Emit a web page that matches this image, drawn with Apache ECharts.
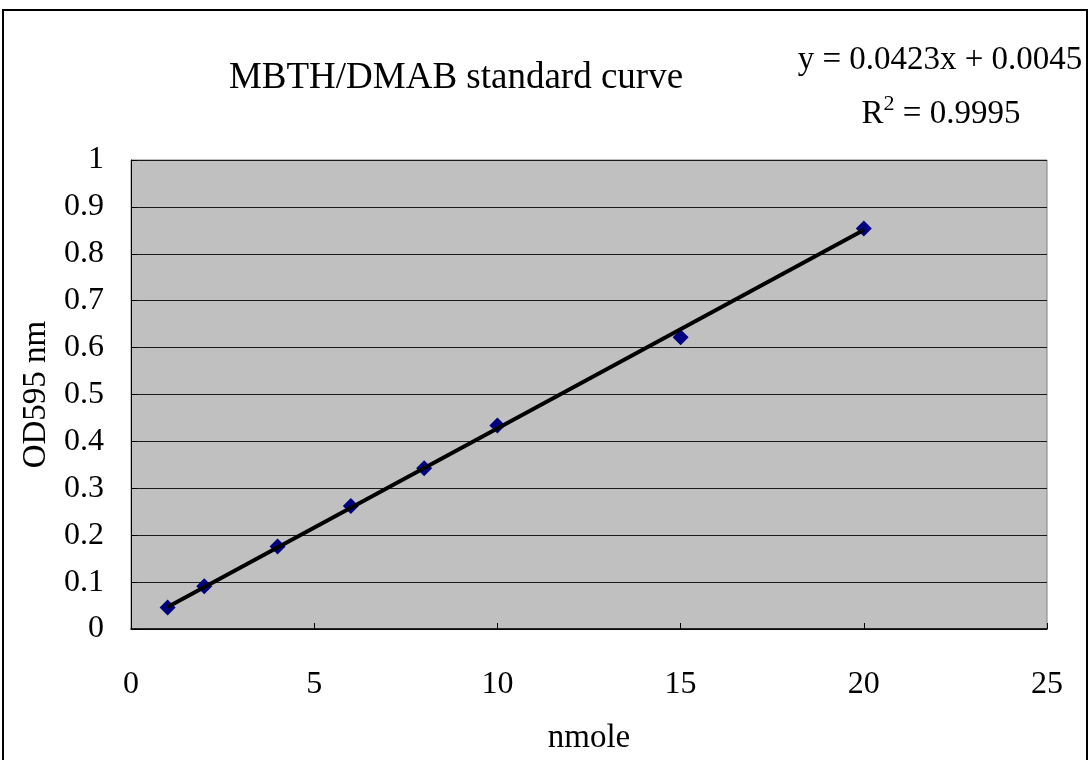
<!DOCTYPE html>
<html>
<head>
<meta charset="utf-8">
<script src="https://cdn.jsdelivr.net/npm/echarts@6/dist/echarts.min.js"></script>
<style>
  html, body { margin: 0; padding: 0; background: #ffffff; }
  #chart { width: 1090px; height: 760px; }
</style>
</head>
<body>
<div id="chart"></div>
<script>
// Standard curve measurements
const nmole = [1, 2, 4, 6, 8, 10, 15, 20];
const od595 = [0.046, 0.091, 0.176, 0.262, 0.343, 0.434, 0.622, 0.854];

// Linear fit shown in the equation label
const fitSlope = 0.0423;
const fitIntercept = 0.0045;
const fitR2 = 0.9995;

const titleText = 'MBTH/DMAB standard curve';
const xAxisName = 'nmole';
const yAxisName = 'OD595 nm';

const FONT = '"Liberation Serif", "DejaVu Serif", serif';

const points = nmole.map((x, i) => [x, od595[i]]);
const xFirst = nmole[0];
const xLast = nmole[nmole.length - 1];
const fitLine = [
  [xFirst, fitSlope * xFirst + fitIntercept],
  [xLast, fitSlope * xLast + fitIntercept]
];

const chart = echarts.init(document.getElementById('chart'), null, { renderer: 'canvas' });

chart.setOption({
  backgroundColor: '#ffffff',
  animation: false,
  grid: {
    left: 131, top: 160, width: 916, height: 470,
    show: true,
    backgroundColor: '#c0c0c0',
    borderColor: '#808080',
    borderWidth: 1,
    containLabel: false
  },
  graphic: [
    {
      type: 'rect',
      shape: { x: 3, y: 10, width: 1084, height: 770 },
      style: { fill: 'none', stroke: '#000000', lineWidth: 2 },
      silent: true
    },
    {
      type: 'text',
      x: 456, y: 78,
      style: {
        text: titleText, font: '37px ' + FONT, fill: '#000000',
        align: 'center', verticalAlign: 'middle'
      }
    },
    {
      type: 'text',
      x: 940, y: 60,
      style: {
        text: 'y = ' + fitSlope.toFixed(4) + 'x + ' + fitIntercept.toFixed(4),
        font: '33px ' + FONT, fill: '#000000',
        align: 'center', verticalAlign: 'middle'
      }
    },
    {
      type: 'text',
      x: 941, y: 112,
      style: {
        text: '{r|R}{sup|2}{r| = ' + fitR2.toFixed(4) + '}',
        align: 'center', verticalAlign: 'middle',
        rich: {
          r: { font: '33px ' + FONT, fill: '#000000', verticalAlign: 'bottom' },
          sup: { font: '22px ' + FONT, fill: '#000000', verticalAlign: 'top', padding: [0, 0, 16, 0] }
        }
      }
    }
  ],
  xAxis: {
    type: 'value',
    min: 0, max: 25, interval: 5,
    name: xAxisName,
    nameLocation: 'middle',
    nameGap: 93,
    nameTextStyle: { fontFamily: FONT, fontSize: 33, color: '#000000' },
    axisLine: { show: true, onZero: false, lineStyle: { color: '#000000', width: 1.5 } },
    axisTick: { show: true, inside: true, length: 6, lineStyle: { color: '#000000' } },
    axisLabel: { fontFamily: FONT, fontSize: 32, color: '#000000', margin: 40 },
    splitLine: { show: false }
  },
  yAxis: {
    type: 'value',
    min: 0, max: 1, interval: 0.1,
    name: yAxisName,
    nameLocation: 'middle',
    nameGap: 77,
    nameTextStyle: { fontFamily: FONT, fontSize: 33, color: '#000000' },
    axisLine: { show: true, lineStyle: { color: '#000000', width: 1 } },
    axisTick: { show: true, inside: true, length: 6, lineStyle: { color: '#000000' } },
    axisLabel: { fontFamily: FONT, fontSize: 32, color: '#000000', margin: 27 },
    splitLine: { show: true, lineStyle: { color: '#1a1a1a', width: 1 } }
  },
  series: [
    {
      type: 'scatter',
      data: points,
      symbol: 'diamond',
      symbolSize: 16,
      itemStyle: { color: '#000080', opacity: 1 },
      z: 2
    },
    {
      type: 'line',
      data: fitLine,
      showSymbol: false,
      symbol: 'none',
      lineStyle: { color: '#000000', width: 4 },
      z: 3
    }
  ]
});
</script>
</body>
</html>
